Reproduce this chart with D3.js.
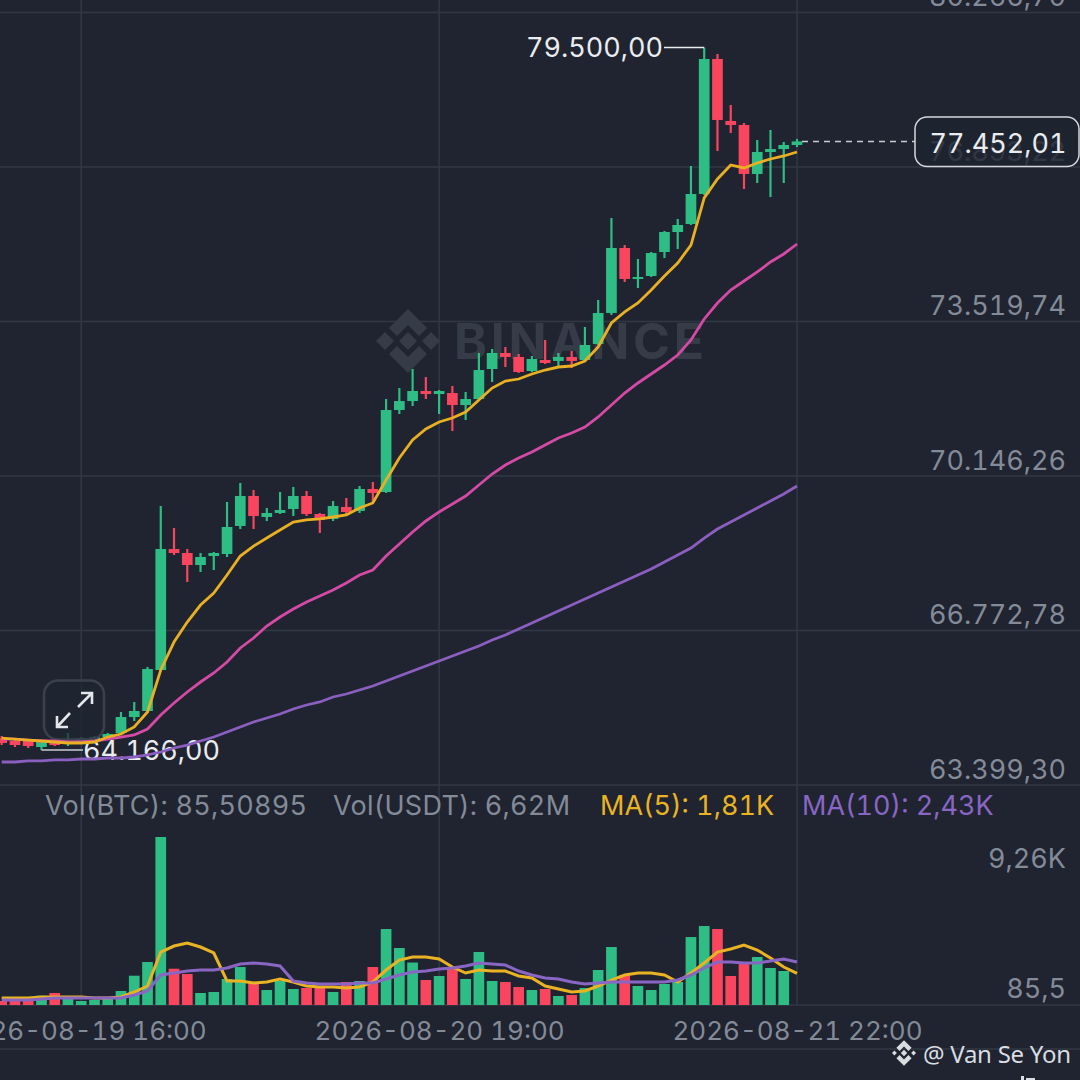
<!DOCTYPE html>
<html>
<head>
<meta charset="utf-8">
<title>BTC/USDT</title>
<style>
  html, body { margin: 0; padding: 0; background: #1f2430; }
  svg { display: block; }
  text { font-family: Inter, "Noto Sans", sans-serif; font-variant-numeric: tabular-nums; }
</style>
<script src="https://cdnjs.cloudflare.com/ajax/libs/d3/7.8.5/d3.min.js"></script>
</head>
<body>
<div id="chart"></div>
<script>
// hourly candles, index 0 is 2026-08-19 10:00
var opens = [64425,64360,64360,64229,64360,64294,64360,64381,64447,64535,64884,65015,65910,68552,68465,68203,68399,68443,69055,69710,69251,69339,69426,69710,69317,69208,69470,69383,69863,69797,71587,71783,72002,71936,71958,71696,71827,72482,72832,72745,72439,72679,72658,72745,72679,73029,73706,75125,74448,74513,75037,75474,75649,76304,79252,77898,77811,76741,77221,77286,77374];
var closes = [64316,64272,64250,64338,64272,64338,64425,64447,64513,64884,65015,65932,68552,68465,68203,68378,68465,69033,69710,69273,69339,69404,69710,69317,69186,69491,69361,69863,69776,71587,71783,72002,71936,72002,71696,71827,72460,72832,72745,72417,72701,72614,72745,72658,73007,73706,75125,74448,74491,75015,75474,75627,76304,79252,77920,77811,76741,77221,77286,77374,77452.01];
var highs = [64469,64403,64403,64360,64403,64535,64447,64469,64535,64993,65212,65976,69491,69011,68552,68465,68487,69579,69994,69841,69448,69797,69907,69819,69339,69601,69666,69928,70016,71827,72067,72482,72307,72024,72111,71980,72832,72919,72963,72810,72767,73116,72832,72876,73400,73990,75780,75190,74884,75037,75496,75758,76915,79500,79361,78247,77854,77483,77702,77440,77505];
var lows = [64272,64229,64207,64166,64250,64250,64338,64360,64403,64491,64797,64993,65889,68421,67832,68050,68094,68378,68989,68989,69164,69317,69273,69273,68902,69164,69317,69339,69558,69776,71500,71674,71827,71500,71129,71369,71783,72198,72526,72395,72417,72592,72548,72504,72658,73007,73662,74382,74251,74491,74906,75103,75627,76282,77243,77636,76413,76544,76238,76544,77330];

var ma7 = [64425,64403,64381,64360,64338,64316,64316,64338,64447,64513,64666,64993,65910,66521,66958,67329,67591,67984,68399,68617,68792,68967,69142,69186,69208,69251,69295,69448,69558,70060,70540,70933,71173,71326,71413,71544,71806,72067,72220,72264,72373,72460,72526,72548,72658,72963,73488,73728,73924,74208,74513,74797,75190,76217,76632,76937,76872,76981,77068,77134,77221];
var ma25 = [64403,64403,64381,64360,64360,64338,64338,64360,64403,64447,64491,64622,64928,65190,65430,65648,65845,66085,66391,66609,66871,67067,67242,67395,67526,67657,67810,67984,68094,68399,68661,68923,69164,69361,69536,69710,69950,70190,70387,70540,70671,70824,70976,71085,71216,71435,71696,71958,72177,72373,72570,72788,73116,73575,73924,74208,74404,74601,74819,74994,75212];
var ma99 = [63902,63902,63924,63924,63946,63946,63967,63967,63989,63989,64011,64055,64120,64207,64272,64360,64447,64556,64666,64775,64862,64950,65059,65146,65212,65321,65386,65474,65561,65670,65780,65889,65998,66107,66217,66326,66435,66566,66675,66806,66937,67068,67199,67329,67461,67592,67723,67854,67984,68116,68269,68421,68574,68792,68989,69142,69295,69448,69601,69754,69929];

var volumes = [304,359,359,593,741,577,304,359,468,850,1685,2433,9260,2067,1778,741,795,1505,2160,1287,904,1396,959,1014,1014,795,1341,1396,2160,4235,3198,2406,1450,1669,2160,1505,2979,1396,1341,1068,904,959,577,631,1014,1996,3252,1723,1123,904,1232,1341,3798,4399,4235,1669,2433,2706,2106,1942,85.5];
var volMa5 = [468,468,468,522,522,522,522,468,468,522,795,1123,2979,3307,3471,3252,2925,1396,1396,1287,1341,1505,1341,1123,1068,1068,1014,1068,1341,1996,2542,2706,2706,2597,2160,1833,1996,1942,1942,1669,1560,1123,959,795,850,1123,1450,1723,1833,1833,1723,1341,1833,2379,2979,3143,3361,3088,2652,2160,1810];
var volMa10 = [359,359,359,413,468,468,468,468,468,468,632,850,1723,1833,1942,1996,1996,2106,2324,2379,2324,2215,1396,1287,1232,1232,1232,1287,1287,1505,1723,1887,1942,2051,2106,2215,2379,2324,2269,1942,1723,1560,1505,1341,1232,1287,1341,1341,1341,1341,1341,1450,1723,2106,2433,2433,2379,2379,2488,2597,2430];

var priceTicks = [80266.70,76893.22,73519.74,70146.26,66772.78,63399.30];
var volTicks = [9260,85.5];
var volTickLabels = ["9,26K","85,5"];
var timeTicks = [6,33,60];
var timeLabels = ["2026-08-19 16:00","2026-08-20 19:00","2026-08-21 22:00"];
var legendLabels = ["Vol(BTC): 85,50895","Vol(USDT): 6,62M","MA(5): 1,81K","MA(10): 2,43K"];
var lastPrice = 77452.01, highPrice = 79500, lowPrice = 64166;

var bg = "#1f2430", grid = "#323843", green = "#2ebd85", red = "#f9455e";
var labelColor = "#848b98", white = "#eaecef";

var width = 1080, height = 1080;
var fmt = d3.formatLocale({decimal:",", thousands:".", grouping:[3], currency:["",""]}).format(",.2f");

var x = d3.scaleLinear().domain([0, 60]).range([1.7, 797]);
var y = d3.scaleLinear().domain([63399.30, 80266.70]).range([785, 12.5]);
var yVol = d3.scaleLinear().domain([85.5, 9260]).range([1005, 837]);

var idx = d3.range(opens.length);
var barW = 10.7;

var svg = d3.select("#chart").append("svg")
    .attr("width", width)
    .attr("height", height)
    .attr("viewBox", "0 0 1080 1080");

svg.append("rect").attr("width", width).attr("height", height).attr("fill", bg);

// grid
svg.append("g").selectAll("line")
    .data(priceTicks)
  .enter().append("line")
    .attr("x1", 0).attr("x2", width)
    .attr("y1", function(d) { return y(d); })
    .attr("y2", function(d) { return y(d); })
    .attr("stroke", grid).attr("stroke-width", 1.5);
svg.append("g").selectAll("line")
    .data(timeTicks)
  .enter().append("line")
    .attr("x1", function(d) { return x(d); })
    .attr("x2", function(d) { return x(d); })
    .attr("y1", 0).attr("y2", yVol(85.5))
    .attr("stroke", grid).attr("stroke-width", 1.5);
svg.append("line").attr("x1", 0).attr("x2", width).attr("y1", yVol(85.5)).attr("y2", yVol(85.5))
    .attr("stroke", grid).attr("stroke-width", 1.5);
svg.append("line").attr("x1", 0).attr("x2", width).attr("y1", 1049).attr("y2", 1049)
    .attr("stroke", grid).attr("stroke-width", 1.5);

// watermark
var mark = svg.append("g").attr("fill", "#363c47");
var logo = mark.append("g").attr("transform", "translate(408,341)");
logo.selectAll("path")
    .data([
      "M0,-9 L9,0 L0,9 L-9,0 Z",
      "M-23,-9 L-14,0 L-23,9 L-32,0 Z",
      "M23,-9 L32,0 L23,9 L14,0 Z",
      "M0,-32 L19,-13 L11,-5 L0,-16 L-11,-5 L-19,-13 Z",
      "M0,32 L19,13 L11,5 L0,16 L-11,5 L-19,13 Z"
    ])
  .enter().append("path").attr("d", function(d) { return d; });
mark.append("text")
    .attr("x", 454).attr("y", 359)
    .attr("font-size", 50).attr("font-weight", 700)
    .attr("textLength", 250).attr("lengthAdjust", "spacing")
    .style("font-family", "Inter")
    .text("BINANCE");

// price axis labels sit above their grid lines
var priceAxis = d3.axisRight(y).tickValues(priceTicks).tickSize(0).tickPadding(0).tickFormat(fmt);
var pa = svg.append("g").attr("transform", "translate(1066,0)").call(priceAxis);
pa.select(".domain").remove();
pa.selectAll("text")
    .attr("text-anchor", "end").attr("x", 0).attr("dy", "-7")
    .attr("font-size", 27).attr("fill", labelColor)
    .style("font-family", "Inter");

// candles
var candles = svg.append("g");
candles.selectAll(".wick")
    .data(idx)
  .enter().append("line")
    .attr("class", "wick")
    .attr("x1", function(i) { return x(i); })
    .attr("x2", function(i) { return x(i); })
    .attr("y1", function(i) { return y(highs[i]); })
    .attr("y2", function(i) { return y(lows[i]); })
    .attr("stroke", function(i) { return closes[i] >= opens[i] ? green : red; })
    .attr("stroke-width", 2.2);
candles.selectAll(".body")
    .data(idx)
  .enter().append("rect")
    .attr("class", "body")
    .attr("x", function(i) { return x(i) - barW / 2; })
    .attr("width", barW)
    .attr("y", function(i) { return y(Math.max(opens[i], closes[i])); })
    .attr("height", function(i) { return Math.max(1.5, Math.abs(y(opens[i]) - y(closes[i]))); })
    .attr("fill", function(i) { return closes[i] >= opens[i] ? green : red; });

// expand button
var btn = svg.append("g");
btn.append("rect")
    .attr("x", 44).attr("y", 680.5).attr("width", 60).attr("height", 59).attr("rx", 14)
    .attr("fill", bg).attr("fill-opacity", 0.72)
    .attr("stroke", "#3b414c").attr("stroke-width", 2.5);
btn.append("path")
    .attr("d", "M78,707 L92,693 M81,693 L92,693 L92,704 M70,713 L57,727 M57,716 L57,727 L68,727")
    .attr("fill", "none").attr("stroke", "#e4e6ea").attr("stroke-width", 2.6);

// high / low labels
svg.append("line").attr("x1", 664).attr("x2", x(53)).attr("y1", y(highPrice)).attr("y2", y(highPrice))
    .attr("stroke", white).attr("stroke-width", 1.5);
svg.append("text").attr("x", 663).attr("y", y(highPrice)).attr("dy", "0.36em")
    .attr("text-anchor", "end").attr("font-size", 27).attr("fill", white).text(fmt(highPrice));
svg.append("line").attr("x1", x(3)).attr("x2", 83).attr("y1", y(lowPrice)).attr("y2", y(lowPrice))
    .attr("stroke", "#c9ccd2").attr("stroke-width", 1.5);
svg.append("text").attr("x", 83).attr("y", y(lowPrice)).attr("dy", "0.36em")
    .attr("font-size", 27).attr("fill", white).text(fmt(lowPrice));

// moving averages, the lines run over the low label
var priceLine = d3.line().x(function(d, i) { return x(i); }).y(function(d) { return y(d); });
var volLine = d3.line().x(function(d, i) { return x(i); }).y(function(d) { return yVol(d); });
svg.append("path").attr("d", priceLine(ma99)).attr("fill", "none").attr("stroke", "#8a5fbf").attr("stroke-width", 2.8);
svg.append("path").attr("d", priceLine(ma25)).attr("fill", "none").attr("stroke", "#d54aa4").attr("stroke-width", 2.8);
svg.append("path").attr("d", priceLine(ma7)).attr("fill", "none").attr("stroke", "#e9b023").attr("stroke-width", 2.8);

// last price
svg.append("line").attr("x1", 802).attr("x2", 915).attr("y1", y(lastPrice)).attr("y2", y(lastPrice))
    .attr("stroke", "#c9ccd2").attr("stroke-width", 1.5).attr("stroke-dasharray", "6,5");
svg.append("rect")
    .attr("x", 915).attr("y", 117).attr("width", 164).attr("height", 49.5).attr("rx", 12)
    .attr("fill", bg).attr("fill-opacity", 0.82)
    .attr("stroke", "#d5d8dd").attr("stroke-width", 1.5);
svg.append("text").attr("x", 998).attr("y", 143).attr("dy", "0.36em")
    .attr("text-anchor", "middle").attr("font-size", 27).attr("fill", white).text(fmt(lastPrice));

// legend row
var legendX = [45, 333, 600, 802];
var legendColors = [labelColor, labelColor, "#eab324", "#8a66c4"];
svg.append("g").selectAll("text")
    .data(legendLabels)
  .enter().append("text")
    .attr("x", function(d, i) { return legendX[i]; })
    .attr("y", 805).attr("dy", "0.36em")
    .attr("font-size", 27)
    .attr("letter-spacing", function(d, i) { return i < 2 ? 0.25 : 0; })
    .attr("fill", function(d, i) { return legendColors[i]; })
    .text(function(d) { return d; });

// volume bars
svg.append("g").selectAll("rect")
    .data(idx)
  .enter().append("rect")
    .attr("x", function(i) { return x(i) - barW / 2; })
    .attr("width", barW)
    .attr("y", function(i) { return yVol(volumes[i]); })
    .attr("height", function(i) { return yVol(85.5) - yVol(volumes[i]); })
    .attr("fill", function(i) { return closes[i] >= opens[i] ? green : red; });
svg.append("path").attr("d", volLine(volMa5)).attr("fill", "none").attr("stroke", "#eab324").attr("stroke-width", 3);
svg.append("path").attr("d", volLine(volMa10)).attr("fill", "none").attr("stroke", "#8a66c4").attr("stroke-width", 3);

// volume axis
var volAxis = d3.axisRight(yVol).tickValues(volTicks).tickSize(0).tickPadding(0)
    .tickFormat(function(d, i) { return volTickLabels[i]; });
var va = svg.append("g").attr("transform", "translate(1066,0)").call(volAxis);
va.select(".domain").remove();
va.selectAll("text")
    .attr("text-anchor", "end").attr("x", 0)
    .attr("dy", function(d) { return d === 85.5 ? "-8" : "30"; })
    .attr("font-size", 27).attr("fill", labelColor)
    .style("font-family", "Inter");

// time axis
var timeAxis = d3.axisBottom(x).tickValues(timeTicks).tickSize(0).tickPadding(0)
    .tickFormat(function(d, i) { return timeLabels[i]; });
var ta = svg.append("g").attr("transform", "translate(0,1022)").call(timeAxis);
ta.select(".domain").remove();
ta.selectAll("text")
    .attr("font-size", 26).attr("fill", labelColor)
    .style("font-family", "Inter");

// footer credit
var credit = svg.append("g").attr("fill", "#d9dce0");
credit.append("g").attr("transform", "translate(904,1053) scale(0.4)")
    .selectAll("path")
    .data([
      "M0,-8 L8,0 L0,8 L-8,0 Z",
      "M-24,-6 L-18,0 L-24,6 L-30,0 Z",
      "M24,-6 L30,0 L24,6 L18,0 Z",
      "M0,-32 L19,-13 L11,-5 L0,-16 L-11,-5 L-19,-13 Z",
      "M0,32 L19,13 L11,5 L0,16 L-11,5 L-19,13 Z"
    ])
  .enter().append("path").attr("d", function(d) { return d; });
credit.append("text")
    .attr("x", 923).attr("y", 1054).attr("dy", "0.36em")
    .attr("font-size", 24).attr("textLength", 148)
    .style("font-family", "Noto Sans")
    .text("@ Van Se Yon");

// stray glyph cut off by the bottom edge
svg.append("path")
    .attr("d", "M1021,1076 h3 v4 h-3 Z M1026,1078 h9 v2 h-9 Z")
    .attr("fill", "#d9dce0");
</script>
</body>
</html>
